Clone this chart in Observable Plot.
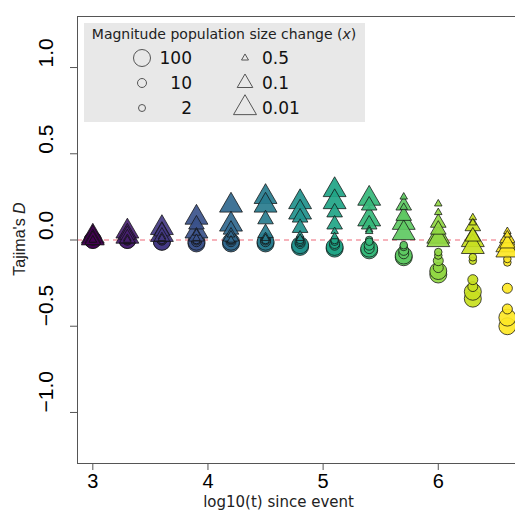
<!DOCTYPE html>
<html><head><meta charset="utf-8">
<script src="https://cdn.jsdelivr.net/npm/d3@7"></script>
<script src="https://cdn.jsdelivr.net/npm/@observablehq/plot@0.6"></script>
<style>
body{margin:0;background:#fff;}
#wrap{position:relative;width:515px;height:515px;overflow:hidden;}
#legend{position:absolute;left:0;top:0;pointer-events:none;}
</style></head><body><div id="wrap"></div>
<script>
// time points (log10 t since event)
const times = [3.0, 3.3, 3.6, 3.9, 4.2, 4.5, 4.8, 5.1, 5.4, 5.7, 6.0, 6.3, 6.6];
// expansions (circles): magnitude 100, 10, 2 (two runs each)
const x100a = [0.00, 0.00, -0.01, -0.02, -0.02, -0.02, -0.04, -0.05, -0.06, -0.10, -0.20, -0.34, -0.50];
const x100b = [0.00, 0.00, -0.01, -0.01, -0.01, -0.01, -0.03, -0.04, -0.05, -0.09, -0.18, -0.30, -0.45];
const x10a  = [0.00, 0.00, 0.00, -0.01, -0.01, -0.01, -0.02, -0.03, -0.05, -0.08, -0.16, -0.27, -0.40];
const x10b  = [0.00, 0.00, 0.00, 0.00, 0.00, 0.00, -0.01, -0.02, -0.03, -0.06, -0.12, -0.23, -0.28];
const x2a   = [0.00, 0.00, 0.00, 0.00, 0.00, 0.00, -0.01, -0.01, 0.00, -0.04, -0.09, -0.12, -0.13];
const x2b   = [0.00, 0.00, 0.00, 0.00, 0.00, 0.00, 0.00, 0.00, -0.01, -0.03, -0.07, -0.10, -0.11];
// contractions (triangles): magnitude 0.01, 0.1, 0.5 (two runs each)
const x001a = [0.02, 0.05, 0.07, 0.13, 0.20, 0.25, 0.22, 0.29, 0.24, 0.10, 0.02, 0.00, -0.03];
const x001b = [0.01, 0.02, 0.03, 0.05, 0.09, 0.20, 0.16, 0.22, 0.12, 0.04, 0.00, -0.04, -0.06];
const x01a  = [0.01, 0.03, 0.05, 0.09, 0.06, 0.12, 0.13, 0.16, 0.20, 0.20, 0.10, 0.08, 0.01];
const x01b  = [0.00, 0.01, 0.02, 0.02, 0.02, 0.04, 0.07, 0.09, 0.09, 0.14, 0.06, 0.02, -0.02];
const x05a  = [0.00, 0.01, 0.02, 0.04, 0.03, 0.02, 0.03, 0.05, 0.06, 0.25, 0.21, 0.13, 0.05];
const x05b  = [0.00, 0.00, 0.01, 0.01, 0.00, 0.01, 0.01, 0.02, 0.05, 0.19, 0.16, 0.10, 0.03];

const xTicks = [3, 4, 5, 6];
const yTicks = [-1.0, -0.5, 0.0, 0.5, 1.0];
const yTickLabels = ["\u22121.0", "\u22120.5", "0.0", "0.5", "1.0"];
const legendCircles = ["100", "10", "2"];
const legendTriangles = ["0.5", "0.1", "0.01"];

function rows(arr){ return times.map((t,i)=>({t, D: arr[i]})); }
const series = [
  {vals:[x100a,x100b], symbol:"circle", r:8.5},
  {vals:[x10a,x10b], symbol:"circle", r:5},
  {vals:[x2a,x2b], symbol:"circle", r:3.8},
  {vals:[x001a,x001b], symbol:"triangle", r:8.5},
  {vals:[x01a,x01b], symbol:"triangle", r:5.8},
  {vals:[x05a,x05b], symbol:"triangle", r:2.8}
];

const dotMarks = [];
for (const s of series) {
  for (const v of s.vals) {
    dotMarks.push(Plot.dot(rows(v), {x:"t", y:"D", r:s.r, symbol:s.symbol, fill:"t",
      fillOpacity:0.92, stroke:"#111", strokeOpacity:0.75, strokeWidth:1}));
  }
}

const plot = Plot.plot({
  width: 515, height: 515,
  marginLeft: 77, marginRight: -2, marginTop: 16, marginBottom: 52,
  x: {domain: [2.867, 6.688], label: null},
  y: {domain: [-1.296, 1.296], label: null},
  color: {type: "linear", scheme: "viridis", domain: [3, 6.6]},
  style: {background: "#fff", overflow: "hidden"},
  marks: [
    Plot.ruleY([0], {stroke:"#f39aa5", strokeWidth:1.5, strokeDasharray:"5,4"}),
    ...dotMarks,
    Plot.frame({stroke:"#555", strokeWidth:1}),
    Plot.axisX({ticks: xTicks, tickSize: 7, tickPadding: 3, fontSize: 20, fontFamily: "Liberation Sans", stroke:"#555", fill:"#000", label: null, tickFormat: d => String(d)}),
    Plot.axisY({ticks: yTicks, tickSize: 7, tickFormat: () => "", stroke:"#555", label: null}),
    Plot.text(yTicks, {y: d => d, text: (d,i) => yTickLabels[i], frameAnchor: "left", dx: -31, rotate: -90, fontSize: 21, fontFamily: "Liberation Sans", fill: "#000"}),
    Plot.text(["log10(t) since event"], {frameAnchor: "bottom-left", dx: 201, dy: 43, textAnchor: "middle", fontSize: 15, fontFamily: "DejaVu Sans", fill: "#222"})
  ]
});
document.getElementById("wrap").appendChild(plot);

// y-axis title with italic D
const svg = d3.select(plot);
const yt = svg.append("text")
  .attr("transform", "translate(25,239) rotate(-90)")
  .attr("text-anchor", "middle")
  .attr("font-family", "Liberation Sans").attr("font-size", 16).attr("fill", "#222");
yt.append("tspan").text("Tajima's ");
yt.append("tspan").attr("font-style", "italic").text("D");

// legend overlay
const lg = d3.select("#wrap").append("svg").attr("id","legend").attr("width",515).attr("height",130);
lg.append("rect").attr("x",84).attr("y",23).attr("width",281).attr("height",99).attr("fill","#e8e8e8");
const tt = lg.append("text").attr("x",224).attr("y",39).attr("text-anchor","middle")
  .attr("font-family","DejaVu Sans").attr("font-size",14).attr("fill","#222");
tt.append("tspan").text("Magnitude population size change (");
tt.append("tspan").attr("font-style","italic").text("x");
tt.append("tspan").text(")");
const rowY = [58, 83, 108];
const cr = [8.5, 4.5, 3.5];
const tw = [7, 15.6, 23];
legendCircles.forEach((lab,i)=>{
  lg.append("circle").attr("cx",142).attr("cy",rowY[i]).attr("r",cr[i]).attr("fill","none").attr("stroke","#555").attr("stroke-width",1);
  lg.append("text").attr("x",192).attr("y",rowY[i]+6).attr("text-anchor","end")
    .attr("font-family","DejaVu Sans").attr("font-size",17).attr("fill","#111").text(lab);
});
legendTriangles.forEach((lab,i)=>{
  const w = tw[i], h = w*0.866, cx = 245, cy = rowY[i];
  const pts = [[cx, cy - 2*h/3],[cx - w/2, cy + h/3],[cx + w/2, cy + h/3]];
  lg.append("polygon").attr("points", pts.map(p=>p.join(",")).join(" ")).attr("fill","none").attr("stroke","#555").attr("stroke-width",1);
  lg.append("text").attr("x",262).attr("y",rowY[i]+6).attr("text-anchor","start")
    .attr("font-family","DejaVu Sans").attr("font-size",17).attr("fill","#111").text(lab);
});
</script></body></html>
